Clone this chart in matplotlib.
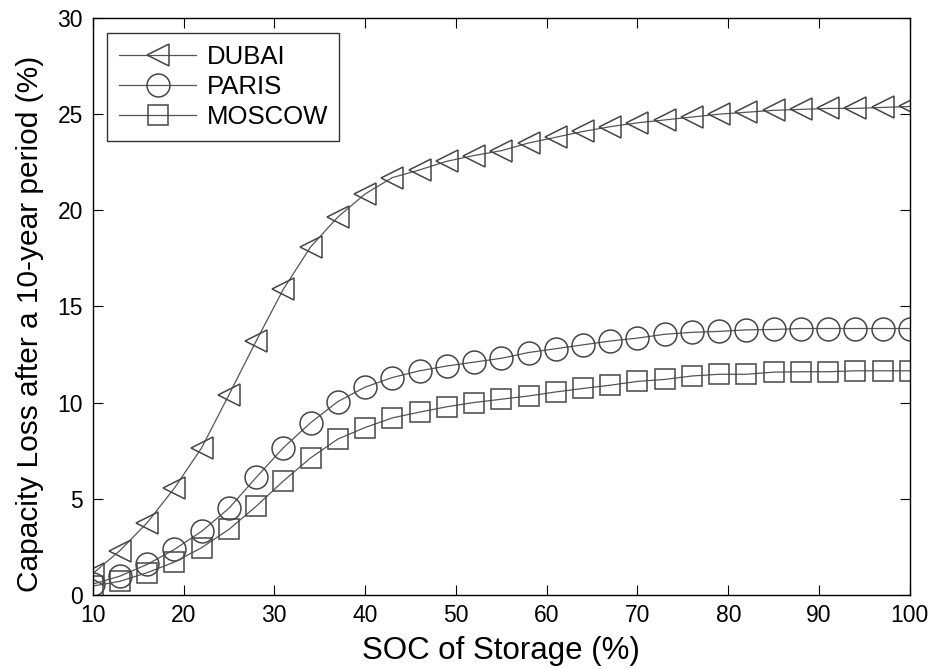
import numpy as np
import matplotlib.pyplot as plt

plt.rcParams['font.family'] = ['Liberation Sans', 'DejaVu Sans']

# SOC de almacenamiento (%) y perdida de capacidad a 10 anios (%)
soc = np.arange(10, 101, 3)

dubai = [1.1, 2.3, 3.75, 5.55, 7.65, 10.4, 13.2, 15.9, 18.1, 19.65, 20.85,
         21.7, 22.1, 22.55, 22.85, 23.1, 23.5, 23.8, 24.1, 24.35, 24.55,
         24.7, 24.85, 25.0, 25.1, 25.2, 25.25, 25.3, 25.3, 25.35, 25.4]
paris = [0.55, 0.97, 1.58, 2.36, 3.3, 4.5, 6.1, 7.65, 8.95, 10.05, 10.8,
         11.3, 11.65, 11.9, 12.1, 12.3, 12.6, 12.8, 13.0, 13.2, 13.35,
         13.55, 13.65, 13.7, 13.78, 13.8, 13.85, 13.85, 13.85, 13.85, 13.85]
moscow = [0.45, 0.7, 1.15, 1.7, 2.45, 3.4, 4.6, 5.92, 7.12, 8.1, 8.7,
          9.2, 9.5, 9.78, 10.0, 10.17, 10.34, 10.55, 10.73, 10.9, 11.1,
          11.2, 11.38, 11.47, 11.47, 11.58, 11.6, 11.6, 11.65, 11.65, 11.65]

xticks = np.arange(10, 101, 10)
yticks = np.arange(0, 31, 5)

fig = plt.figure(figsize=(9.37, 6.69), dpi=100)
ax = fig.add_axes([0.099, 0.111, 0.872, 0.862])

gris = '#555555'
kw = dict(color=gris, lw=0.9, mfc='none', mec='#454545', mew=1.1)
ax.plot(soc, dubai, marker='<', ms=16, label='DUBAI', **kw)
ax.plot(soc, paris, marker='o', ms=16.5, label='PARIS', **kw)
ax.plot(soc, moscow, marker='s', ms=14.5, label='MOSCOW', **kw)

ax.set_xlim(10, 100)
ax.set_ylim(0, 30)
ax.set_xticks(xticks)
ax.set_yticks(yticks)
ax.tick_params(direction='in', length=7, width=0.8, top=True, right=True,
               labelsize=16.5)
ax.tick_params(axis='x', pad=7)
ax.tick_params(axis='y', pad=7)
for s in ax.spines.values():
    s.set_linewidth(1.0)

ax.set_xlabel('SOC of Storage (%)', fontsize=22.5, labelpad=6)
ax.set_ylabel('Capacity Loss after a 10-year period (%)', fontsize=21.5)
ax.yaxis.set_label_coords(-0.06, 0.47)

leg = ax.legend(loc='upper left', handlelength=3.0, handletextpad=0.4,
                fancybox=False, edgecolor='#333333', framealpha=1,
                borderpad=0.45, labelspacing=0.25, borderaxespad=0,
                bbox_to_anchor=(0.018, 0.974),
                prop={'size': 18.5})
leg.get_frame().set_linewidth(1.0)

fig.savefig('out.png', dpi=100)
